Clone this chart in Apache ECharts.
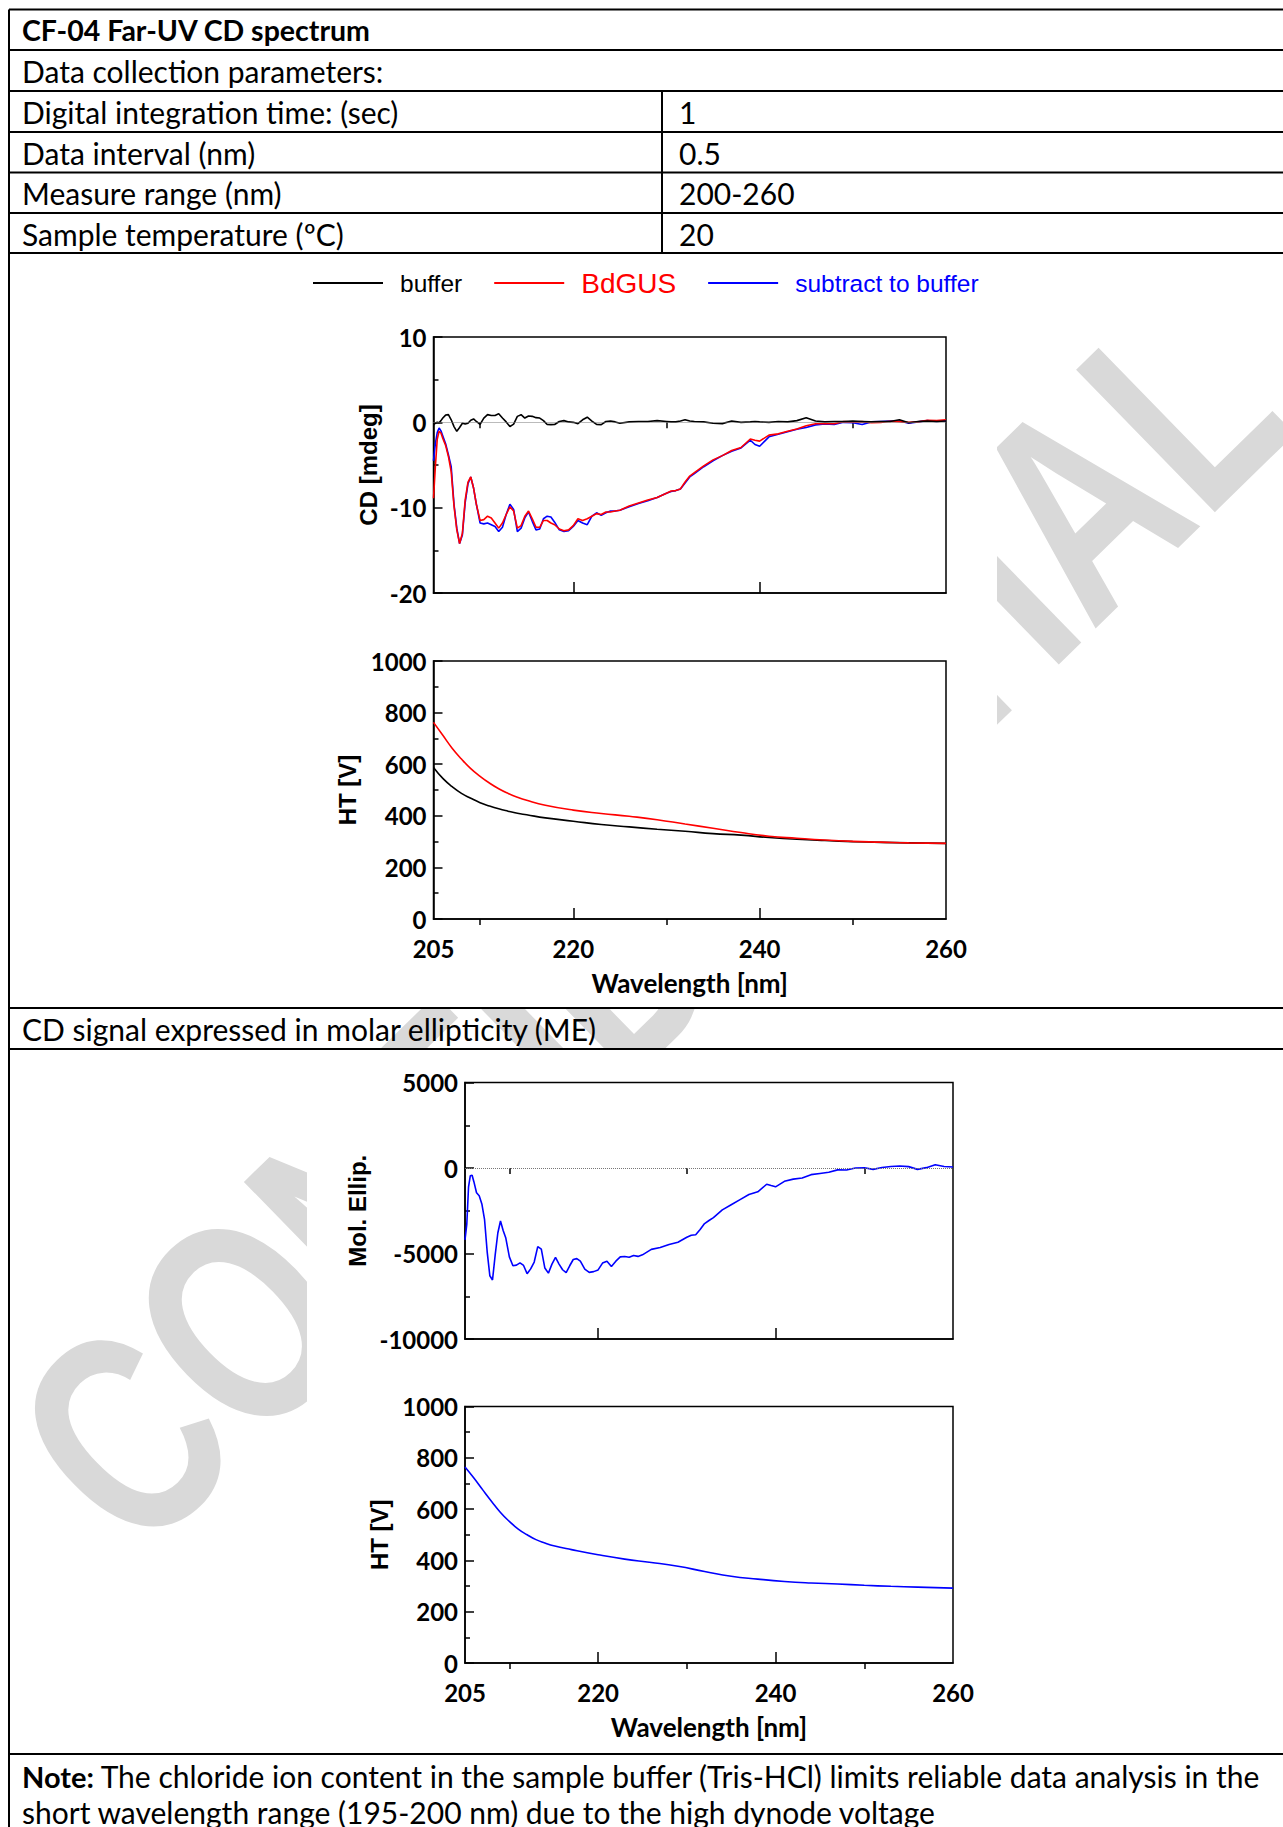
<!DOCTYPE html>
<html lang="en">
<head>
<meta charset="UTF-8">
<title>CF-04 Far-UV CD spectrum</title>
<script src="https://cdn.jsdelivr.net/npm/echarts@6/dist/echarts.min.js"></script>
<style>
  * { padding: 0; margin: 0; }
  body { background: #fff; }
  #main { width: 1283px; height: 1827px; }
</style>
</head>
<body>
<div id="main"></div>
<script>
// wavelength grid (nm) of the CD traces
var cdWl = [205, 205.2, 205.4, 205.6, 205.8, 206,
  206.3, 206.6, 206.9, 207.2, 207.5, 207.8, 208.1, 208.4, 208.7, 209, 209.3, 209.6,
  210, 210.4, 210.8, 211.2, 211.6, 212, 212.4, 212.8, 213.2, 213.6, 214, 214.4, 214.8, 215.2, 215.6, 216, 216.4, 216.8, 217.2, 217.6, 218,
  218.5, 219, 219.5, 220, 220.5, 221, 221.5, 222, 222.5, 223, 223.5, 224, 224.5, 225,
  226, 227, 228, 229, 230,
  230.5, 231, 231.5, 232, 232.5, 233,
  234, 235, 236, 237, 238, 239,
  239.5,
  240, 241, 242, 243, 244, 245, 246, 247, 248, 249, 250, 251, 252, 253, 254, 255, 256, 257, 258, 259, 260];

// CD [mdeg]
var cdBuffer = [-0.3, -0.1, 0, -0.05, 0.2, 0.5,
  0.85, 0.9, 0.3, -0.5, -1.05, -0.6, -0.1, -0.2, -0.1, 0.25, 0.4, 0.1,
  -0.25, 0.5, 0.9, 0.8, 0.8, 1.0, 0.5, 0.05, -0.5, -0.2, 0.7, 0.9, 0.5, 0.75, 0.7, 0.55, 0.5, 0.2, -0.25, -0.27, -0.25,
  0.1, 0.2, 0.05, 0, -0.15, 0.3, 0.6, 0.15, -0.25, -0.27, 0.1, 0.15, 0.05, -0.1,
  0.05, 0.1, 0.1, 0.2, 0.1,
  0.05, 0.05, 0.15, 0.3, 0.15, 0.1,
  0.05, -0.1, -0.15, 0.15, 0, 0.05,
  0.1,
  0.05, 0, 0.1, 0.05, 0.2, 0.55, 0.15, 0.05, 0.1, 0.1, 0.15, 0.1, 0.05, 0.1, 0.1, 0.3, -0.05, 0.1, 0.15, 0.1, 0.15];

var cdSample = [-8.9, -5.2, -2.0, -1.05, -1.25, -1.9,
  -2.7, -4.0, -5.8, -9.8, -12.6, -14.2, -13.0, -9.1, -7.0, -6.4, -7.7, -9.6,
  -11.5, -11.4, -11.0, -11.2, -11.8, -12.4, -11.8, -10.8, -9.9, -10.4, -12.4, -12.1, -11.0, -10.4, -11.3, -12.3, -12.3, -11.5, -11.5, -11.8, -12.0,
  -12.5, -12.7, -12.6, -12.1, -11.3, -11.5, -11.3, -11.0, -10.7, -10.8, -10.5, -10.5, -10.4, -10.3,
  -9.8, -9.45, -9.1, -8.8, -8.3,
  -8.05, -8.0, -7.8, -7.0, -6.3, -5.9,
  -5.1, -4.4, -3.9, -3.3, -2.95, -1.95,
  -2.1,
  -2.2, -1.5, -1.35, -1.05, -0.78, -0.4, -0.16, -0.16, -0.16, 0.08, 0.04, 0.08, -0.05, 0, 0.12, 0.08, 0, 0.05, 0.25, 0.2, 0.3];

var cdSubtract = [-4.5, -2.5, -1.2, -0.66, -1.0, -1.6,
  -2.5, -3.8, -5.2, -9.6, -12.4, -14.2, -13.2, -9.4, -7.2, -6.4, -7.7, -9.6,
  -11.8, -11.9, -11.8, -12.0, -12.2, -12.8, -12.3, -10.8, -9.6, -10.2, -12.8, -12.4, -11.2, -10.5, -11.6, -12.6, -12.5, -11.3, -11.0, -11.1, -11.7,
  -12.6, -12.8, -12.7, -12.2, -11.5, -11.8, -12.0, -11.0, -10.6, -10.9, -10.6, -10.4, -10.4, -10.3,
  -9.9, -9.5, -9.2, -8.8, -8.3,
  -8.1, -8.0, -7.8, -7.1, -6.4, -6.0,
  -5.2, -4.5, -3.9, -3.4, -3.0, -2.1,
  -2.6,
  -2.8, -1.7, -1.4, -1.1, -0.8, -0.6, -0.3, -0.2, -0.25, 0, -0.05, -0.25, 0.05, 0.1, 0.15, 0.15, -0.1, 0.05, 0.2, 0.1, 0.2];

// molar ellipticity, same wavelength grid
var meValues = [-4200, -3300, -1100, -450, -420, -800,
  -1450, -1620, -2100, -3000, -4900, -6300, -6550, -5100, -3800, -3100, -3650, -4100,
  -5200, -5717, -5680, -5550, -5700, -6180, -5900, -5500, -4600, -4750, -5850, -6150, -5620, -5233, -5620, -5950, -6120, -5717, -5350, -5300, -5450,
  -5911, -6105, -6060, -5960, -5560, -5450, -5756, -5450, -5200, -5175, -5220, -5120, -5170, -5080,
  -4760, -4651, -4470, -4340, -4050,
  -3934, -3900, -3600, -3250, -3070, -2900,
  -2450, -2150, -1850, -1550, -1390, -950,
  -1027,
  -1100, -780, -650, -582, -388, -320, -252, -110, -120, 0, 10, -80, 30, 90, 120, 80, -80, 20, 194, 90, 58];

// HT [V]
var htWl = [205, 206, 207, 208, 209, 210, 211, 212, 213, 214, 215, 217, 220, 223, 226, 229, 232, 235, 238, 241, 244, 247, 250, 253, 256, 260];
var htBuffer = [587, 545, 513, 487, 468, 451, 438, 427, 418, 410, 404, 392, 379, 366, 357, 348, 340, 331, 325, 316, 309, 304, 300, 297, 295, 293];
var htSample = [762, 712, 662, 620, 583, 553, 527, 505, 487, 472, 460, 441, 422, 409, 398, 385, 368, 352, 335, 321, 313, 306, 301, 298, 295, 293];
var htMe = [764, 721, 675, 630, 587, 552, 522, 500, 481, 468, 457, 442, 422, 405, 392, 377, 357, 338, 327, 318, 312, 308, 303, 299, 296, 292];

var xLabelVals = [205, 220, 240, 260];
var xMajorTicks = [220, 240];
var xMinorTicks = [210, 230, 250];

var paramRows = [
  ['Digital integration time: (sec)', '1'],
  ['Data interval (nm)', '0.5'],
  ['Measure range (nm)', '200-260'],
  ['Sample temperature (ºC)', '20']
];

function pairs(xs, ys) {
  return xs.map(function (x, i) { return [x, ys[i]]; });
}

var nameFont = {color: '#000', fontFamily: 'Liberation Sans', fontWeight: 'bold', fontSize: 24};
var black = {color: '#000', width: 1.5};

var grids = [
  {left: 433.5, top: 337, width: 512.5, height: 256},
  {left: 433.5, top: 661, width: 512.5, height: 258},
  {left: 465, top: 1082.5, width: 488, height: 256.5},
  {left: 465, top: 1406.5, width: 488, height: 256.5}
].map(function (g) {
  g.show = true;
  g.borderColor = '#000';
  g.borderWidth = 1.5;
  g.backgroundColor = 'transparent';
  return g;
});

var xAxes = [];
grids.forEach(function (g, i) {
  var bottom = (i === 1 || i === 3);
  xAxes.push({
    type: 'value', gridIndex: i, min: 205, max: 260,
    axisLine: {show: true, onZero: false, lineStyle: black},
    axisTick: {show: true, inside: true, length: 11, customValues: xMajorTicks, lineStyle: black},
    axisLabel: {show: bottom, customValues: xLabelVals, margin: 17, fontFamily: 'Lato', fontWeight: 'bold', fontSize: 24, color: '#000'},
    splitLine: {show: false},
    name: bottom ? 'Wavelength [nm]' : '',
    nameLocation: 'middle', nameGap: 51,
    nameTextStyle: {color: '#000', fontFamily: 'Lato', fontWeight: 'bold', fontSize: 26}
  });
  xAxes.push({
    type: 'value', gridIndex: i, min: 205, max: 260,
    axisLine: {show: false},
    axisTick: {show: true, inside: true, length: 6, customValues: xMinorTicks, lineStyle: black},
    axisLabel: {show: false},
    splitLine: {show: false}
  });
});

function yAxis(i, min, max, interval, name, gap) {
  return {
    type: 'value', gridIndex: i, min: min, max: max, interval: interval,
    axisLine: {show: true, onZero: false, lineStyle: black},
    axisTick: {show: true, inside: true, length: 9, lineStyle: black},
    minorTick: {show: true, splitNumber: 2, length: 5, lineStyle: black},
    axisLabel: {margin: 7, color: '#000', fontFamily: 'Lato', fontWeight: 'bold', fontSize: 24,
      formatter: function (v) { return String(v); }},
    splitLine: {show: false},
    name: name, nameLocation: 'middle', nameRotate: 90, nameGap: gap,
    nameTextStyle: nameFont
  };
}

var zeroLine = {
  silent: true, symbol: ['none', 'none'], label: {show: false},
  lineStyle: {color: '#777', type: 'dotted', width: 1},
  data: [{yAxis: 0}]
};

function lineSeries(name, color, xi, yi, data, smooth) {
  return {
    name: name, type: 'line', xAxisIndex: xi, yAxisIndex: yi, data: data,
    symbol: 'none', smooth: !!smooth,
    lineStyle: {color: color, width: 1.6}, itemStyle: {color: color}
  };
}

var s1 = lineSeries('subtract to buffer', '#0000ff', 0, 0, pairs(cdWl, cdSubtract));
s1.markLine = zeroLine;
var s4 = lineSeries('ME', '#0000ff', 4, 2, pairs(cdWl, meValues));
s4.markLine = zeroLine;

var series = [
  s1,
  lineSeries('BdGUS', '#ff0000', 0, 0, pairs(cdWl, cdSample)),
  lineSeries('buffer', '#000000', 0, 0, pairs(cdWl, cdBuffer)),
  lineSeries('buffer', '#000000', 2, 1, pairs(htWl, htBuffer), true),
  lineSeries('BdGUS', '#ff0000', 2, 1, pairs(htWl, htSample), true),
  s4,
  lineSeries('HT (ME)', '#0000ff', 6, 3, pairs(htWl, htMe), true)
];

// table drawn as graphic elements
function txt(x, y, s, bold) {
  return {
    type: 'text', x: x, y: y, z: 10, silent: true,
    style: {text: s, fill: '#000', fontFamily: 'Lato', fontSize: bold ? 28.5 : 30,
      fontWeight: bold ? 'bold' : 'normal',
      align: 'left', verticalAlign: 'middle', textAlign: 'left', textVerticalAlign: 'middle'}
  };
}
function hline(y) {
  return {type: 'line', z: 10, silent: true, shape: {x1: 9, y1: y, x2: 1283, y2: y}, style: {stroke: '#000', lineWidth: 2}};
}
function vline(x, y1, y2) {
  return {type: 'line', z: 10, silent: true, shape: {x1: x, y1: y1, x2: x, y2: y2}, style: {stroke: '#000', lineWidth: 2}};
}

var rowLines = [9.5, 50, 91, 132, 172.5, 213, 253, 1008, 1049, 1754];
var graphics = [
  {
    type: 'text', x: 68, y: 1491, rotation: 44.3 * Math.PI / 180, scaleX: 0.755, z: -2, silent: true,
    style: {text: 'CONFIDENTIAL', fill: '#d9d9d9', fontFamily: 'Liberation Sans', fontWeight: 'bold', fontSize: 289,
      align: 'left', verticalAlign: 'middle', textAlign: 'left', textVerticalAlign: 'middle'}
  },
  {type: 'rect', z: -1, silent: true, shape: {x: 307, y: 254, width: 690, height: 753}, style: {fill: '#fff'}},
  {type: 'rect', z: -1, silent: true, shape: {x: 307, y: 1050, width: 685, height: 703}, style: {fill: '#fff'}}
];
rowLines.forEach(function (y) { graphics.push(hline(y)); });
graphics.push(vline(9, 9.5, 1827));
graphics.push(vline(662, 91, 253));
graphics.push(txt(22, 30, 'CF-04 Far-UV CD spectrum', true));
graphics.push(txt(22, 71, 'Data collection parameters:'));
paramRows.forEach(function (r, i) {
  var y = 112 + i * 40.6;
  graphics.push(txt(22, y, r[0]));
  graphics.push(txt(679, y, r[1]));
});
graphics.push(txt(22, 1029, 'CD signal expressed in molar ellipticity (ME)'));
var note1 = txt(22, 1776, '{b|Note:} The chloride ion content in the sample buffer (Tris-HCl) limits reliable data analysis in the');
note1.style.rich = {b: {fontFamily: 'Lato', fontSize: 29, fontWeight: 'bold', fill: '#000'}};
graphics.push(note1);
graphics.push(txt(22, 1812, 'short wavelength range (195-200 nm) due to the high dynode voltage'));

var chart = echarts.init(document.getElementById('main'), null, {renderer: 'svg'});
chart.setOption({
  backgroundColor: '#fff',
  animation: false,
  legend: {
    left: 308, top: 264,
    icon: 'rect', itemWidth: 70, itemHeight: 2, itemGap: 32,
    textStyle: {fontFamily: 'Liberation Sans', fontSize: 24.5, padding: [0, 0, 0, 12]},
    data: [
      {name: 'buffer', textStyle: {color: '#000'}},
      {name: 'BdGUS', textStyle: {color: '#ff0000', fontSize: 28}},
      {name: 'subtract to buffer', textStyle: {color: '#0000ff'}}
    ]
  },
  grid: grids,
  xAxis: xAxes,
  yAxis: [
    yAxis(0, -20, 10, 10, 'CD [mdeg]', 53),
    yAxis(1, 0, 1000, 200, 'HT [V]', 74),
    yAxis(2, -10000, 5000, 5000, 'Mol. Ellip.', 96),
    yAxis(3, 0, 1000, 200, 'HT [V]', 74)
  ],
  series: series,
  graphic: graphics
});
</script>
</body>
</html>
